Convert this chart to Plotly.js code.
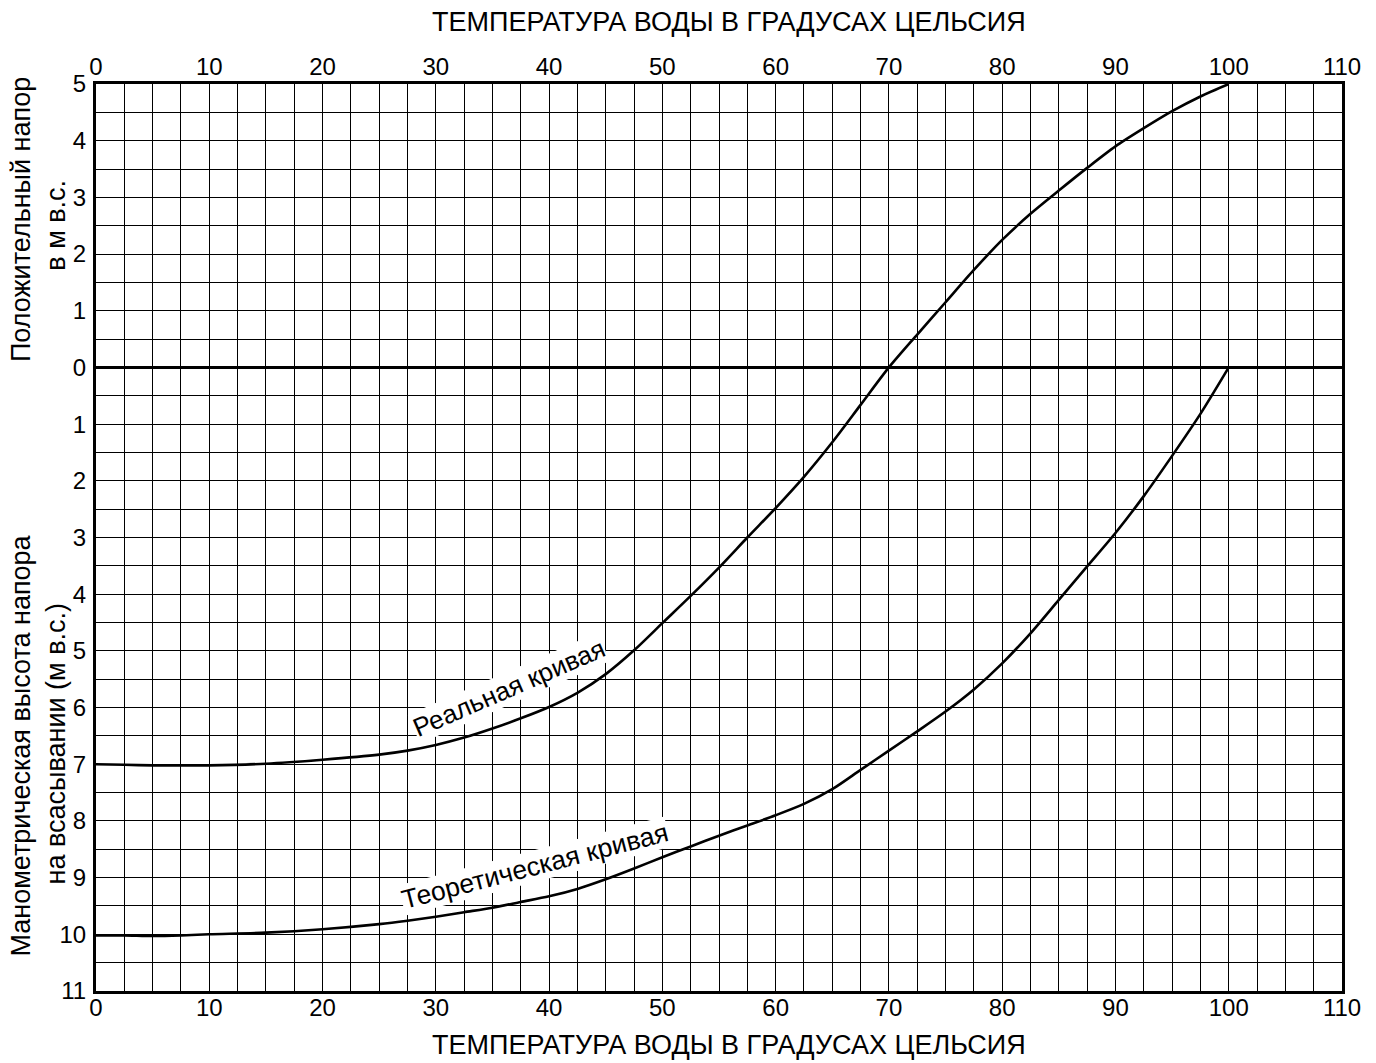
<!DOCTYPE html>
<html>
<head>
<meta charset="utf-8">
<script src="https://cdn.plot.ly/plotly-3.0.1.min.js"></script>
<style>html,body{margin:0;padding:0;background:#fff;}#chart{width:1376px;height:1063px;}</style>
</head>
<body>
<div id="chart"></div>
<script>
// Water temperature, °C
var temps = [0, 2.5, 5, 7.5, 10, 15, 20, 25, 27.5, 30, 32.5, 35, 37.5, 40, 42.5, 45, 47.5, 50, 52.5, 55, 57.5, 60, 62.5, 65, 67.5, 70, 72.5, 75, 77.5, 80, 82.5, 85, 87.5, 90, 92.5, 95, 97.5, 100];
// Real curve (positive = head above pump, negative = suction lift), m w.c.
var realHead = [-7.0, -7.01, -7.02, -7.02, -7.02, -6.99, -6.92, -6.83, -6.76, -6.66, -6.53, -6.37, -6.19, -5.99, -5.74, -5.41, -4.99, -4.51, -4.03, -3.53, -3.0, -2.48, -1.93, -1.32, -0.66, 0.0, 0.58, 1.15, 1.72, 2.25, 2.71, 3.12, 3.52, 3.9, 4.22, 4.52, 4.78, 5.0];
// Theoretical curve
var theoHead = [-10.02, -10.02, -10.03, -10.02, -10.0, -9.97, -9.91, -9.82, -9.76, -9.69, -9.61, -9.53, -9.43, -9.33, -9.2, -9.03, -8.84, -8.64, -8.45, -8.26, -8.08, -7.9, -7.7, -7.44, -7.1, -6.76, -6.42, -6.07, -5.68, -5.22, -4.69, -4.1, -3.51, -2.92, -2.27, -1.56, -0.82, 0.0];

// Tick labels
var xTickVals = [0, 10, 20, 30, 40, 50, 60, 70, 80, 90, 100, 110];
var xTickText = ['0', '10', '20', '30', '40', '50', '60', '70', '80', '90', '100', '110'];
var yTickVals = [-11, -10, -9, -8, -7, -6, -5, -4, -3, -2, -1, 0, 1, 2, 3, 4, 5];
var yTickText = ['11', '10', '9', '8', '7', '6', '5', '4', '3', '2', '1', '0', '1', '2', '3', '4', '5'];

var xTitle = 'ТЕМПЕРАТУРА ВОДЫ В ГРАДУСАХ ЦЕЛЬСИЯ';
var realLabel = 'Реальная кривая';
var theoLabel = 'Теоретическая кривая';
var yTitleTop1 = 'Положительный напор';
var yTitleTop2 = 'в м в.с.';
var yTitleBot1 = 'Манометрическая высота напора';
var yTitleBot2 = 'на всасывании (м в.с.)';

var FONT = 'Liberation Sans, Arial, Helvetica, sans-serif';

var traces = [
  {x: temps, y: realHead, type: 'scatter', mode: 'lines', line: {color: '#000', width: 2.6, shape: 'spline', smoothing: 0.8}, hoverinfo: 'skip', showlegend: false},
  {x: temps, y: theoHead, type: 'scatter', mode: 'lines', line: {color: '#000', width: 2.6, shape: 'spline', smoothing: 0.8}, hoverinfo: 'skip', showlegend: false},
  {x: temps, y: theoHead, xaxis: 'x2', type: 'scatter', mode: 'lines', line: {color: 'rgba(0,0,0,0)', width: 0}, hoverinfo: 'skip', showlegend: false}
];

var layout = {
  width: 1376, height: 1063,
  margin: {l: 96, r: 34, t: 84, b: 72, pad: 0},
  paper_bgcolor: '#fff', plot_bgcolor: '#fff',
  font: {family: FONT, color: '#000', size: 24},
  showlegend: false,
  xaxis: {
    range: [0, 110], tickmode: 'array', tickvals: xTickVals, ticktext: xTickText,
    ticks: '', ticklabelstandoff: -7,
    showgrid: true, gridcolor: '#000', gridwidth: 1,
    minor: {tickmode: 'linear', tick0: 0, dtick: 2.5, showgrid: true, gridcolor: '#000', gridwidth: 1, ticks: ''},
    showline: true, linecolor: '#000', linewidth: 3, mirror: true,
    zeroline: false, tickfont: {size: 24}
  },
  xaxis2: {
    overlaying: 'x', side: 'top', anchor: 'y', range: [0, 110], tickmode: 'array', tickvals: xTickVals, ticktext: xTickText,
    ticks: '', ticklabelstandoff: 3, showgrid: false, showline: false, zeroline: false, tickfont: {size: 24}
  },
  yaxis: {
    range: [-11, 5], tickmode: 'array', tickvals: yTickVals, ticktext: yTickText,
    ticks: '', ticklabelstandoff: 2,
    showgrid: true, gridcolor: '#000', gridwidth: 1,
    minor: {tickmode: 'linear', tick0: 0, dtick: 0.5, showgrid: true, gridcolor: '#000', gridwidth: 1, ticks: ''},
    showline: true, linecolor: '#000', linewidth: 3, mirror: true,
    zeroline: true, zerolinecolor: '#000', zerolinewidth: 3,
    tickfont: {size: 24}
  },
  annotations: [
    {x: 0.5, xref: 'paper', xshift: 10, y: 1, yref: 'paper', yshift: 62, text: xTitle, showarrow: false,
     font: {size: 27}, xanchor: 'center', yanchor: 'middle'},
    {x: 0.5, xref: 'paper', xshift: 10, y: 0, yref: 'paper', yshift: -54, text: xTitle, showarrow: false,
     font: {size: 27}, xanchor: 'center', yanchor: 'middle'},
    {x: 36.46, y: -5.66, xref: 'x', yref: 'y', text: realLabel, showarrow: false, textangle: -23.5,
     font: {size: 26}, bgcolor: '#fff', borderpad: 0, xanchor: 'center', yanchor: 'middle'},
    {x: 38.76, y: -8.8, xref: 'x', yref: 'y', text: theoLabel, showarrow: false, textangle: -14.5,
     font: {size: 26.5}, bgcolor: '#fff', borderpad: 0, xanchor: 'center', yanchor: 'middle'},
    {x: 0, xref: 'paper', xshift: -75, y: 2.6, yref: 'y', text: yTitleTop1, showarrow: false, textangle: -90,
     font: {size: 27}, xanchor: 'center', yanchor: 'middle'},
    {x: 0, xref: 'paper', xshift: -40, y: 2.5, yref: 'y', text: yTitleTop2, showarrow: false, textangle: -90,
     font: {size: 27}, xanchor: 'center', yanchor: 'middle'},
    {x: 0, xref: 'paper', xshift: -75, y: -6.67, yref: 'y', text: yTitleBot1, showarrow: false, textangle: -90,
     font: {size: 27}, xanchor: 'center', yanchor: 'middle'},
    {x: 0, xref: 'paper', xshift: -40, y: -6.65, yref: 'y', text: yTitleBot2, showarrow: false, textangle: -90,
     font: {size: 27}, xanchor: 'center', yanchor: 'middle'}
  ]
};

Plotly.newPlot('chart', traces, layout, {displayModeBar: false, staticPlot: true});
</script>
</body>
</html>
